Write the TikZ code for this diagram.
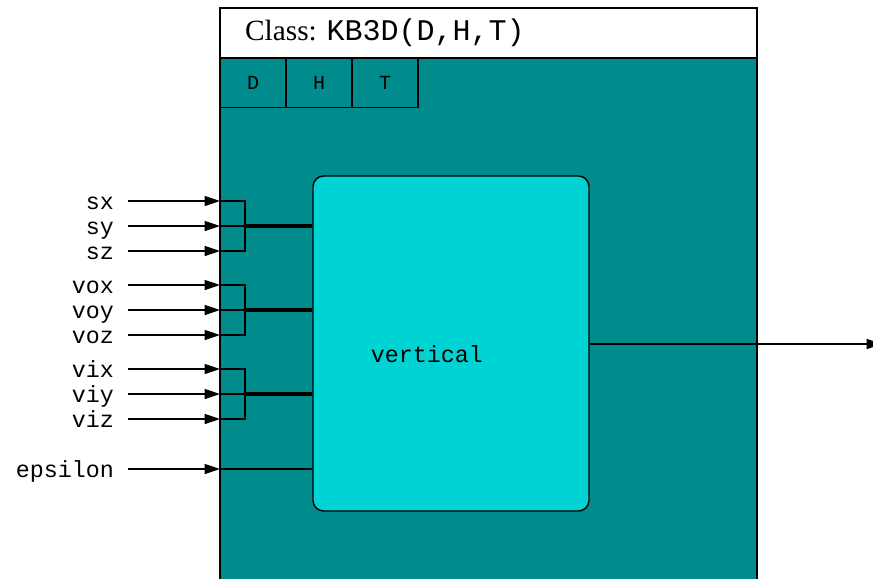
\documentclass[tikz,border=0pt]{standalone}
\usepackage{fontspec}
\setmainfont{Liberation Serif}
\setmonofont{Liberation Mono}
\usetikzlibrary{arrows.meta,positioning}
\definecolor{classteal}{RGB}{0,140,140}
\definecolor{blockcyan}{RGB}{0,211,211}
\begin{document}
\begin{tikzpicture}[x=0.75pt,y=-0.75pt,line width=1.1pt,
    inlabel/.style={anchor=base east,inner xsep=10pt,inner ysep=0pt,font=\ttfamily\fontsize{17.5}{18}\selectfont},
    parbox/.style={draw,fill=classteal,minimum width=49.5pt,minimum height=37pt,inner sep=0pt,outer sep=0pt,font=\ttfamily\fontsize{15}{16}\selectfont},
    inarrow/.style={-{Triangle[length=11.5pt,width=7.5pt]}},
    bundlelink/.style={line width=2.4pt}]
        \useasboundingbox (0,0) rectangle (873,578);
        \fill[classteal] (220,58) rectangle (757,600);
        \draw[fill=white] (220,8) rectangle (757,58);
        \draw (220,58) -- (220,600) (757,58) -- (757,600);
        \node[anchor=west] (title) at (240,33) {\fontsize{22}{24}\selectfont Class: {\ttfamily\fontsize{22.5}{24}\selectfont KB3D(D,H,T)}};
        \node[parbox,anchor=north west] (parD) at (220,58) {D};
        \node[parbox,right=0pt of parD] (parH) {H};
        \node[parbox,right=0pt of parH] (parT) {T};
        \node[draw,fill=blockcyan,rounded corners=8pt,minimum width=207pt,minimum height=251.25pt] (vertical) at (451,343.5) {};
        \node[font=\ttfamily\fontsize{17.5}{18}\selectfont] (vertlabel) at (427,354) {vertical};
        % inputs
        \node[inlabel] (sx) at (128,209) {sx};
        \node[inlabel] (sy) at (128,234) {sy};
        \node[inlabel] (sz) at (128,259) {sz};
        \node[inlabel] (vox) at (128,293) {vox};
        \node[inlabel] (voy) at (128,318) {voy};
        \node[inlabel] (voz) at (128,343) {voz};
        \node[inlabel] (vix) at (128,377) {vix};
        \node[inlabel] (viy) at (128,402) {viy};
        \node[inlabel] (viz) at (128,427) {viz};
        \node[inlabel] (epsilon) at (128,477) {epsilon};
        \coordinate (sxin) at (220,201); \coordinate (syin) at (220,226); \coordinate (szin) at (220,251);
        \coordinate (voxin) at (220,285); \coordinate (voyin) at (220,310); \coordinate (vozin) at (220,335);
        \coordinate (vixin) at (220,369); \coordinate (viyin) at (220,394); \coordinate (vizin) at (220,419);
        \coordinate (epsin) at (220,469);
        \coordinate (sjoin) at (245,226); \coordinate (vojoin) at (245,310); \coordinate (vijoin) at (245,394);
        \draw[inarrow] (sx.east |- sxin) -- (sxin);
        \draw[inarrow] (sy.east |- syin) -- (syin);
        \draw[inarrow] (sz.east |- szin) -- (szin);
        \draw[inarrow] (vox.east |- voxin) -- (voxin);
        \draw[inarrow] (voy.east |- voyin) -- (voyin);
        \draw[inarrow] (voz.east |- vozin) -- (vozin);
        \draw[inarrow] (vix.east |- vixin) -- (vixin);
        \draw[inarrow] (viy.east |- viyin) -- (viyin);
        \draw[inarrow] (viz.east |- vizin) -- (vizin);
        \draw[inarrow] (epsilon.east |- epsin) -- (epsin);
        % bundles
        \draw (sxin) -| (sjoin) |- (szin) (syin) -- (sjoin);
        \draw (voxin) -| (vojoin) |- (vozin) (voyin) -- (vojoin);
        \draw (vixin) -| (vijoin) |- (vizin) (viyin) -- (vijoin);
        \draw[bundlelink] (sjoin) -- (vertical.west |- sjoin);
        \draw[bundlelink] (vojoin) -- (vertical.west |- vojoin);
        \draw[bundlelink] (vijoin) -- (vertical.west |- vijoin);
        \draw (epsin) -- (vertical.west |- epsin);
        % output
        \coordinate (outend) at (882,344);
        \draw[inarrow] (vertical.east |- outend) -- (outend);
    \end{tikzpicture}
\end{document}
